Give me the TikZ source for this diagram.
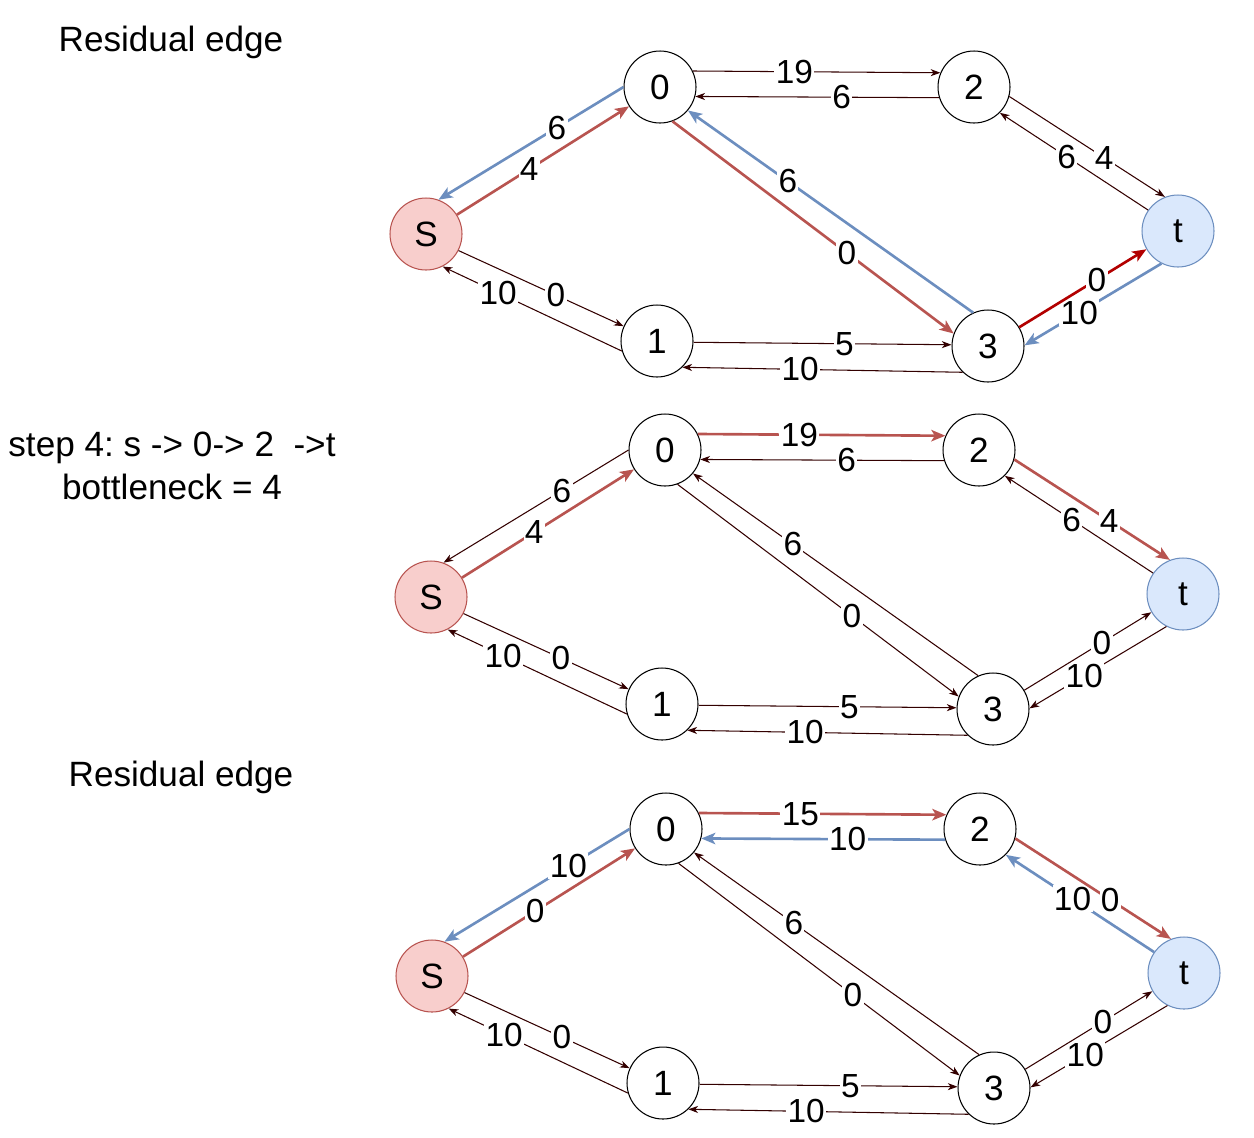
\documentclass[tikz,border=0pt]{standalone}
\usepackage{fontspec}
\setmainfont{Liberation Sans}
\usetikzlibrary{arrows.meta, positioning}
\definecolor{flowred}{HTML}{B85450}
\definecolor{pathred}{HTML}{B20000}
\definecolor{resblue}{HTML}{6C8EBF}
\definecolor{edgedark}{HTML}{330000}
\definecolor{srcfill}{HTML}{F8CECC}
\definecolor{sinkfill}{HTML}{DAE8FC}
\frenchspacing
\tikzset{
    vertex/.style={circle, draw=black, fill=white, line width=0.6pt, minimum size=1.44cm, inner sep=0pt, font=\fontsize{20}{24}\selectfont},
    source/.style={vertex, draw=flowred, fill=srcfill},
    sink/.style={vertex, draw=resblue, fill=sinkfill},
    res/.style={draw=edgedark, line width=0.6pt, -{Stealth[length=5.5pt, width=4pt, inset=1.6pt]}},
    aug/.style={draw=flowred, line width=1.5pt, -{Stealth[length=8pt, width=6.5pt, inset=2pt]}},
    augdark/.style={aug, draw=pathred},
    back/.style={aug, draw=resblue},
    lbl/.style={fill=white, inner sep=0.8pt, font=\fontsize{19}{19}\selectfont},
    note/.style={font=\fontsize{20}{24.5}\selectfont},
}
\begin{document}
\begin{tikzpicture}[x=0.02cm, y=-0.02cm]
    \useasboundingbox (0,0) rectangle (1254,1137);

    \node[note] (res1) at (171,42) {Residual edge};
    \node[note, align=center] (step) at (172,466) {step 4: s -> 0-> 2\ \ ->t\\bottleneck = 4};
    \node[note] (res2) at (181,777) {Residual edge};

    % the three residual graphs
    \foreach \p/\dx/\dy in {a/0/0, b/5/363, c/6/742} {
      \begin{scope}[shift={(\dx,\dy)}]
        \node[source] (s\p) at (426,234) {S};
        \node[vertex] (\p0) at (660,87) {0};
        \node[vertex] (\p1) at (657,341) {1};
        \node[vertex] (\p2) at (974,87) {2};
        \node[vertex] (\p3) at (988,346) {3};
        \node[sink] (t\p) at (1178,231) {t};
      \end{scope}
      \draw[res] (\p1.196) -- node[lbl, pos=.69] {10} (s\p.297);
      \draw[res] (s\p.333) -- node[lbl, pos=.59] {0} (\p1.156);
      \draw[res] (\p3.226) -- node[lbl, pos=.58] {10} (\p1.314);
      \draw[res] (\p1.358) -- node[lbl, pos=.585] {5} (\p3.178);
    }

    % panel a
    \draw[back] (a0.180) -- node[lbl, pos=.36] {6} (sa.70);
    \draw[aug] (sa.32) -- node[lbl, pos=.42] {4} (a0.212);
    \draw[back] (a3.114) -- node[lbl, pos=.65] {6} (a0.320);
    \draw[aug] (a0.290) -- node[lbl, pos=.62] {0} (a3.160);
    \draw[res] (a2.197) -- node[lbl, pos=.40] {6} (a0.345);
    \draw[res] (a0.26) -- node[lbl, pos=.41] {19} (a2.157);
    \draw[res] (ta.145) -- node[lbl, pos=.55] {6} (a2.315);
    \draw[res] (a2.345) -- node[lbl, pos=.61] {4} (ta.111);
    \draw[back] (ta.243) -- node[lbl, pos=.6] {10} (a3.1);
    \draw[augdark] (a3.31) -- node[lbl, pos=.61] {0} (ta.210);

    % panel b
    \draw[res] (b0.180) -- node[lbl, pos=.36] {6} (sb.70);
    \draw[aug] (sb.32) -- node[lbl, pos=.42] {4} (b0.212);
    \draw[res] (b3.114) -- node[lbl, pos=.65] {6} (b0.320);
    \draw[res] (b0.290) -- node[lbl, pos=.62] {0} (b3.160);
    \draw[res] (b2.197) -- node[lbl, pos=.40] {6} (b0.345);
    \draw[aug] (b0.26) -- node[lbl, pos=.41] {19} (b2.157);
    \draw[res] (tb.145) -- node[lbl, pos=.55] {6} (b2.315);
    \draw[aug] (b2.345) -- node[lbl, pos=.61] {4} (tb.111);
    \draw[res] (tb.243) -- node[lbl, pos=.6] {10} (b3.1);
    \draw[res] (b3.31) -- node[lbl, pos=.61] {0} (tb.210);

    % panel c
    \draw[back] (c0.180) -- node[lbl, pos=.33] {10} (sc.70);
    \draw[aug] (sc.32) -- node[lbl, pos=.42] {0} (c0.212);
    \draw[res] (c3.114) -- node[lbl, pos=.65] {6} (c0.320);
    \draw[res] (c0.290) -- node[lbl, pos=.62] {0} (c3.160);
    \draw[back] (c2.197) -- node[lbl, pos=.40] {10} (c0.345);
    \draw[aug] (c0.26) -- node[lbl, pos=.41] {15} (c2.157);
    \draw[back] (tc.145) -- node[lbl, pos=.55] {10} (c2.315);
    \draw[aug] (c2.345) -- node[lbl, pos=.61] {0} (tc.111);
    \draw[res] (tc.243) -- node[lbl, pos=.6] {10} (c3.1);
    \draw[res] (c3.31) -- node[lbl, pos=.61] {0} (tc.210);
\end{tikzpicture}
\end{document}
